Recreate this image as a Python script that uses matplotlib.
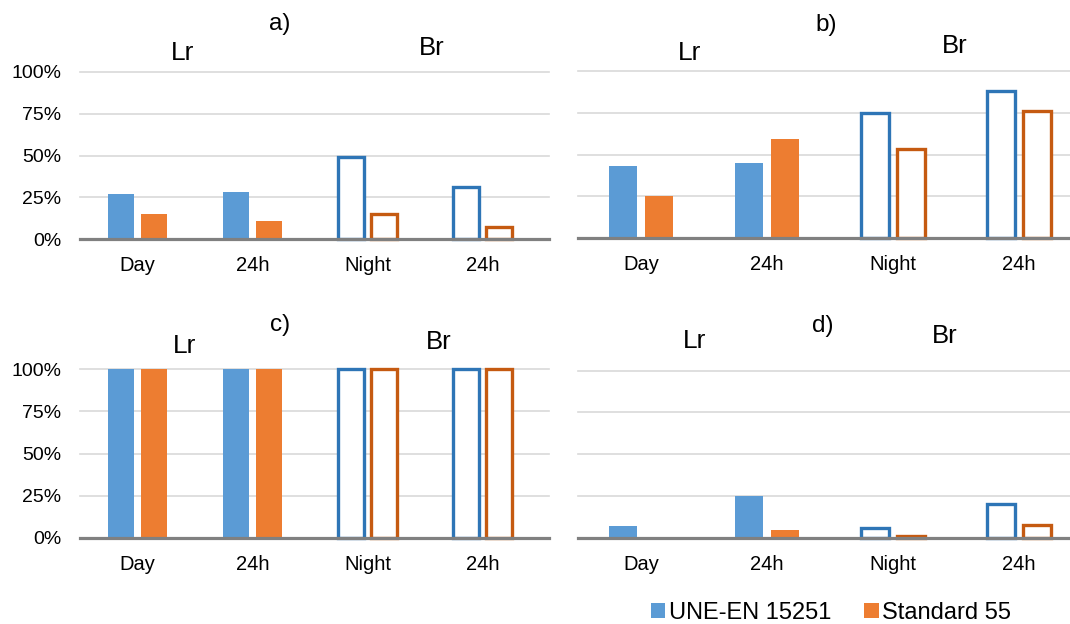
import matplotlib
matplotlib.use("Agg")
import matplotlib.pyplot as plt
from matplotlib.patches import Patch
import numpy as np

plt.rcParams['font.family'] = ['Liberation Sans', 'DejaVu Sans']

categories = ["Day", "24h", "Night", "24h"]
panel_labels = ["a)", "b)", "c)", "d)"]
series_names = ["UNE-EN 15251", "Standard 55"]
y_ticks = [0, 25, 50, 75, 100]
y_tick_labels = ["0%", "25%", "50%", "75%", "100%"]

une_a = [27, 28, 49, 31]
std_a = [15, 11, 15, 7]
une_b = [43, 45, 75, 88]
std_b = [25, 59, 53, 76]
une_c = [100, 100, 100, 100]
std_c = [100, 100, 100, 100]
une_d = [7, 25, 6, 20.5]
std_d = [0, 4.6, 1, 7.5]

W, H = 1070, 624
BLUE_FILL = "#5B9BD5"
ORANGE_FILL = "#ED7D31"
BLUE_EDGE = "#2E75B6"
ORANGE_EDGE = "#C55A11"
GRID = "#D9D9D9"
BASE = "#808080"

fig = plt.figure(figsize=(W / 100, H / 100), dpi=100)


def px_axes(left, right, top, bottom):
    return fig.add_axes([left / W, 1 - bottom / H, (right - left) / W, (bottom - top) / H])


panels = [
    (une_a, std_a, (80, 549, 72, 239), 115, True),
    (une_b, std_b, (578, 1070, 71, 238), 126, False),
    (une_c, std_c, (80, 549, 369, 538), 115, True),
    (une_d, std_d, (578, 1070, 370.5, 538), 126, False),
]

width = 0.224
off = 0.142
x = np.arange(len(categories))

for une, std, (l, r, t, b), catw, show_y in panels:
    ax = px_axes(l, r, t, b)
    ax.set_xlim(-0.5, -0.5 + (r - l) / catw)
    ax.set_ylim(0, 100)
    for i in range(len(categories)):
        if i < 2:
            ax.bar(x[i] - off, une[i], width, color=BLUE_FILL, zorder=2, clip_on=False)
            ax.bar(x[i] + off, std[i], width, color=ORANGE_FILL, zorder=2, clip_on=False)
        else:
            ax.bar(x[i] - off, une[i], width, facecolor="white", edgecolor=BLUE_EDGE,
                   linewidth=2.4, zorder=2, clip_on=False)
            ax.bar(x[i] + off, std[i], width, facecolor="white", edgecolor=ORANGE_EDGE,
                   linewidth=2.4, zorder=2, clip_on=False)
    for yv in y_ticks[1:]:
        ax.axhline(yv, color=GRID, linewidth=1.2, zorder=1, clip_on=False)
    ax.axhline(0, color=BASE, linewidth=2.3, zorder=3, clip_on=False)
    for s in ax.spines.values():
        s.set_visible(False)
    ax.set_xticks(x)
    ax.set_xticklabels(categories, fontsize=14.5)
    ax.set_yticks(y_ticks)
    if show_y:
        ax.set_yticklabels(y_tick_labels, fontsize=14)
    else:
        ax.set_yticklabels([])
    ax.tick_params(axis='both', length=0)
    ax.tick_params(axis='x', pad=12.5)
    ax.tick_params(axis='y', pad=13.5)
    ax.patch.set_visible(False)

# panel titles and group labels (centre x, baseline y in pixels)
texts = [
    ("a)", 280, 30, 17.5), ("Lr", 183, 60, 19), ("Br", 432, 55, 18.5),
    ("b)", 826, 31, 17.5), ("Lr", 690, 60, 19), ("Br", 955, 53, 18.5),
    ("c)", 280, 331, 17.5), ("Lr", 185, 353, 19), ("Br", 439, 349, 18.5),
    ("d)", 823, 332, 17.5), ("Lr", 695, 348, 19), ("Br", 945, 343, 18.5),
]
for s, xp, yp, fs in texts:
    fig.text(xp / W, 1 - yp / H, s, ha="center", va="baseline", fontsize=fs, color="black")

handles = [Patch(facecolor=BLUE_FILL, edgecolor="none"), Patch(facecolor=ORANGE_FILL, edgecolor="none")]
fig.legend(handles, series_names, loc="center", bbox_to_anchor=(831 / W, 1 - 613 / H),
           ncol=2, frameon=False, fontsize=17, handlelength=0.62, handleheight=0.62,
           handletextpad=0.15, columnspacing=1.4, borderpad=0, borderaxespad=0)

fig.savefig("out.png", dpi=100)
